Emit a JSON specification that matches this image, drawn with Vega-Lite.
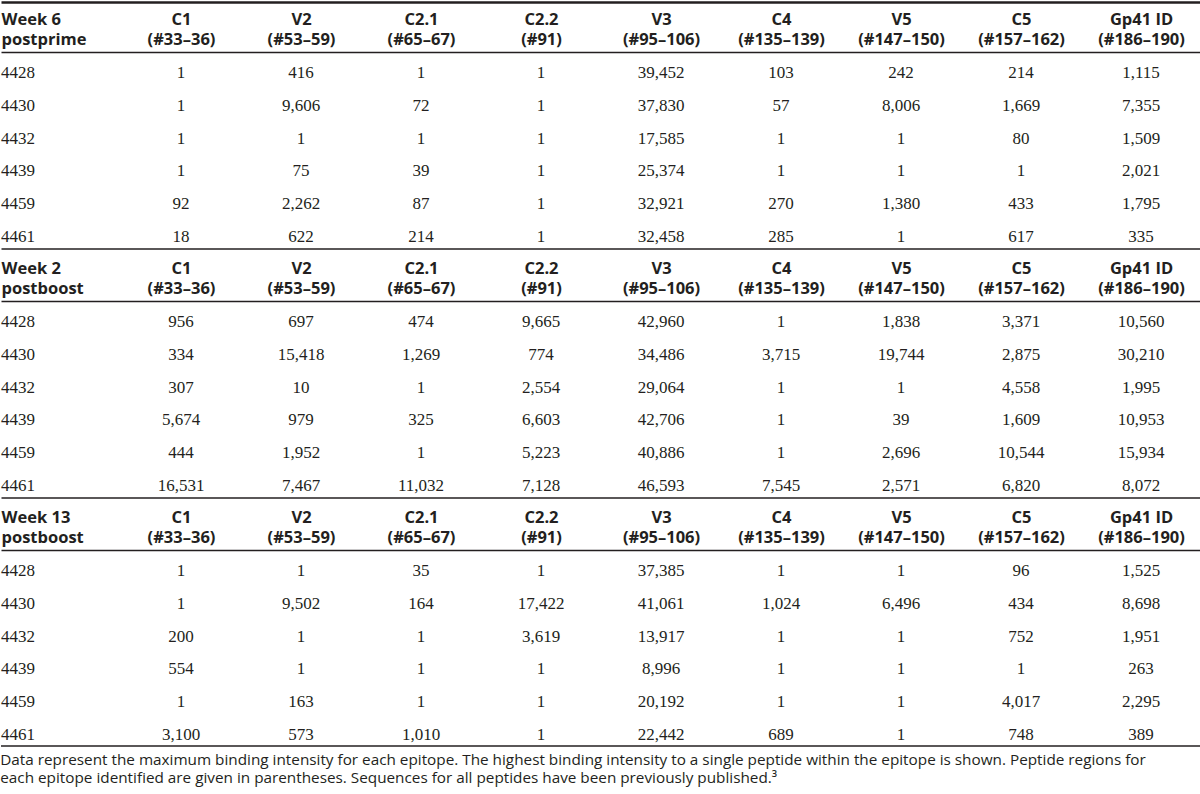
{
  "$schema": "https://vega.github.io/schema/vega-lite/v6.json",
  "padding": {"top": 2, "left": 0, "right": 0, "bottom": 0},
  "spacing": 0,
  "config": {"view": {"stroke": null}, "axis": {"grid": false}},
  "title": {
    "text": [
      "Data represent the maximum binding intensity for each epitope. The highest binding intensity to a single peptide within the epitope is shown. Peptide regions for",
      "each epitope identified are given in parentheses. Sequences for all peptides have been previously published.³"
    ],
    "orient": "bottom", "anchor": "start", "font": "Open Sans", "fontSize": 15.3, "fontWeight": "normal",
    "color": "#231f20", "lineHeight": 18, "offset": 6
  },
  "datasets": {
    "table": [
      {"block": "w6", "id": "4428", "C1": 1, "V2": 416, "C21": 1, "C22": 1, "V3": 39452, "C4": 103, "V5": 242, "C5": 214, "Gp41": 1115},
      {"block": "w6", "id": "4430", "C1": 1, "V2": 9606, "C21": 72, "C22": 1, "V3": 37830, "C4": 57, "V5": 8006, "C5": 1669, "Gp41": 7355},
      {"block": "w6", "id": "4432", "C1": 1, "V2": 1, "C21": 1, "C22": 1, "V3": 17585, "C4": 1, "V5": 1, "C5": 80, "Gp41": 1509},
      {"block": "w6", "id": "4439", "C1": 1, "V2": 75, "C21": 39, "C22": 1, "V3": 25374, "C4": 1, "V5": 1, "C5": 1, "Gp41": 2021},
      {"block": "w6", "id": "4459", "C1": 92, "V2": 2262, "C21": 87, "C22": 1, "V3": 32921, "C4": 270, "V5": 1380, "C5": 433, "Gp41": 1795},
      {"block": "w6", "id": "4461", "C1": 18, "V2": 622, "C21": 214, "C22": 1, "V3": 32458, "C4": 285, "V5": 1, "C5": 617, "Gp41": 335},
      {"block": "w2", "id": "4428", "C1": 956, "V2": 697, "C21": 474, "C22": 9665, "V3": 42960, "C4": 1, "V5": 1838, "C5": 3371, "Gp41": 10560},
      {"block": "w2", "id": "4430", "C1": 334, "V2": 15418, "C21": 1269, "C22": 774, "V3": 34486, "C4": 3715, "V5": 19744, "C5": 2875, "Gp41": 30210},
      {"block": "w2", "id": "4432", "C1": 307, "V2": 10, "C21": 1, "C22": 2554, "V3": 29064, "C4": 1, "V5": 1, "C5": 4558, "Gp41": 1995},
      {"block": "w2", "id": "4439", "C1": 5674, "V2": 979, "C21": 325, "C22": 6603, "V3": 42706, "C4": 1, "V5": 39, "C5": 1609, "Gp41": 10953},
      {"block": "w2", "id": "4459", "C1": 444, "V2": 1952, "C21": 1, "C22": 5223, "V3": 40886, "C4": 1, "V5": 2696, "C5": 10544, "Gp41": 15934},
      {"block": "w2", "id": "4461", "C1": 16531, "V2": 7467, "C21": 11032, "C22": 7128, "V3": 46593, "C4": 7545, "V5": 2571, "C5": 6820, "Gp41": 8072},
      {"block": "w13", "id": "4428", "C1": 1, "V2": 1, "C21": 35, "C22": 1, "V3": 37385, "C4": 1, "V5": 1, "C5": 96, "Gp41": 1525},
      {"block": "w13", "id": "4430", "C1": 1, "V2": 9502, "C21": 164, "C22": 17422, "V3": 41061, "C4": 1024, "V5": 6496, "C5": 434, "Gp41": 8698},
      {"block": "w13", "id": "4432", "C1": 200, "V2": 1, "C21": 1, "C22": 3619, "V3": 13917, "C4": 1, "V5": 1, "C5": 752, "Gp41": 1951},
      {"block": "w13", "id": "4439", "C1": 554, "V2": 1, "C21": 1, "C22": 1, "V3": 8996, "C4": 1, "V5": 1, "C5": 1, "Gp41": 263},
      {"block": "w13", "id": "4459", "C1": 1, "V2": 163, "C21": 1, "C22": 1, "V3": 20192, "C4": 1, "V5": 1, "C5": 4017, "Gp41": 2295},
      {"block": "w13", "id": "4461", "C1": 3100, "V2": 573, "C21": 1010, "C22": 1, "V3": 22442, "C4": 689, "V5": 1, "C5": 748, "Gp41": 389}
    ]
  },
  "vconcat": [
    {
      "width": 1200, "height": 196,
      "data": {"name": "table"},
      "transform": [{"filter": {"field": "block", "equal": "w6"}}],
      "layer": [
        {
          "transform": [{"fold": ["C1", "V2", "C21", "C22", "V3", "C4", "V5", "C5", "Gp41"], "as": ["col", "value"]}],
          "mark": {"type": "text", "font": "Liberation Serif", "fontSize": 17, "color": "#231f20", "baseline": "alphabetic", "dy": 10},
          "encoding": {
            "x": {"field": "col", "type": "nominal",
              "scale": {"domain": ["id", "C1", "V2", "C21", "C22", "V3", "C4", "V5", "C5", "Gp41"], "paddingInner": 0, "paddingOuter": 0},
              "axis": {"orient": "top", "title": null, "ticks": false, "tickSize": 0, "domain": true, "domainColor": "#231f20", "domainWidth": 1.5,
                "labelPadding": 24.5, "labelFont": "Open Sans", "labelFontSize": 16.5, "labelFontWeight": "bold", "labelColor": "#231f20",
                "labelLineHeight": 20, "labelAngle": 0, "labelOverlap": false, "labelLimit": 0, "labelBound": false,
                "labelAlign": {"condition": {"test": "datum.value === 'id'", "value": "left"}, "value": "center"},
                "labelOffset": {"condition": {"test": "datum.value === 'id'", "value": -60}, "value": 0},
                "labelExpr": "datum.value == 'id' ? ['Week 6', 'postprime'] : datum.value == 'C1' ? ['C1', '(#33–36)'] : datum.value == 'V2' ? ['V2', '(#53–59)'] : datum.value == 'C21' ? ['C2.1', '(#65–67)'] : datum.value == 'C22' ? ['C2.2', '(#91)'] : datum.value == 'V3' ? ['V3', '(#95–106)'] : datum.value == 'C4' ? ['C4', '(#135–139)'] : datum.value == 'V5' ? ['V5', '(#147–150)'] : datum.value == 'C5' ? ['C5', '(#157–162)'] : ['Gp41 ID', '(#186–190)']"}},
            "y": {"field": "id", "type": "nominal", "scale": {"domain": ["4428", "4430", "4432", "4439", "4459", "4461"], "paddingInner": 0, "paddingOuter": 0}, "axis": null},
            "text": {"field": "value", "type": "quantitative", "format": ",d"}
          }
        },
        {
          "transform": [{"fold": ["id"], "as": ["col", "value"]}],
          "mark": {"type": "text", "font": "Liberation Serif", "fontSize": 17, "color": "#231f20", "baseline": "alphabetic", "dy": 10, "dx": -60, "align": "left"},
          "encoding": {
            "x": {"field": "col", "type": "nominal",
              "axis": {"orient": "top", "offset": 50, "title": null, "labels": false, "ticks": false, "tickSize": 0, "domain": true, "domainColor": "#231f20", "domainWidth": 2.5}},
            "y": {"field": "id", "type": "nominal", "axis": null},
            "text": {"field": "value", "type": "nominal"}
          }
        }
      ],
      "resolve": {"axis": {"x": "independent"}}
    },
    {
      "width": 1200, "height": 196,
      "data": {"name": "table"},
      "transform": [{"filter": {"field": "block", "equal": "w2"}}],
      "layer": [
        {
          "transform": [{"fold": ["C1", "V2", "C21", "C22", "V3", "C4", "V5", "C5", "Gp41"], "as": ["col", "value"]}],
          "mark": {"type": "text", "font": "Liberation Serif", "fontSize": 17, "color": "#231f20", "baseline": "alphabetic", "dy": 10},
          "encoding": {
            "x": {"field": "col", "type": "nominal",
              "scale": {"domain": ["id", "C1", "V2", "C21", "C22", "V3", "C4", "V5", "C5", "Gp41"], "paddingInner": 0, "paddingOuter": 0},
              "axis": {"orient": "top", "title": null, "ticks": false, "tickSize": 0, "domain": true, "domainColor": "#231f20", "domainWidth": 1.5,
                "labelPadding": 24.5, "labelFont": "Open Sans", "labelFontSize": 16.5, "labelFontWeight": "bold", "labelColor": "#231f20",
                "labelLineHeight": 20, "labelAngle": 0, "labelOverlap": false, "labelLimit": 0, "labelBound": false,
                "labelAlign": {"condition": {"test": "datum.value === 'id'", "value": "left"}, "value": "center"},
                "labelOffset": {"condition": {"test": "datum.value === 'id'", "value": -60}, "value": 0},
                "labelExpr": "datum.value == 'id' ? ['Week 2', 'postboost'] : datum.value == 'C1' ? ['C1', '(#33–36)'] : datum.value == 'V2' ? ['V2', '(#53–59)'] : datum.value == 'C21' ? ['C2.1', '(#65–67)'] : datum.value == 'C22' ? ['C2.2', '(#91)'] : datum.value == 'V3' ? ['V3', '(#95–106)'] : datum.value == 'C4' ? ['C4', '(#135–139)'] : datum.value == 'V5' ? ['V5', '(#147–150)'] : datum.value == 'C5' ? ['C5', '(#157–162)'] : ['Gp41 ID', '(#186–190)']"}},
            "y": {"field": "id", "type": "nominal", "scale": {"domain": ["4428", "4430", "4432", "4439", "4459", "4461"], "paddingInner": 0, "paddingOuter": 0}, "axis": null},
            "text": {"field": "value", "type": "quantitative", "format": ",d"}
          }
        },
        {
          "transform": [{"fold": ["id"], "as": ["col", "value"]}],
          "mark": {"type": "text", "font": "Liberation Serif", "fontSize": 17, "color": "#231f20", "baseline": "alphabetic", "dy": 10, "dx": -60, "align": "left"},
          "encoding": {
            "x": {"field": "col", "type": "nominal",
              "axis": {"orient": "top", "offset": 52.5, "title": null, "labels": false, "ticks": false, "tickSize": 0, "domain": true, "domainColor": "#231f20", "domainWidth": 1.5}},
            "y": {"field": "id", "type": "nominal", "axis": null},
            "text": {"field": "value", "type": "nominal"}
          }
        }
      ],
      "resolve": {"axis": {"x": "independent"}}
    },
    {
      "width": 1200, "height": 196,
      "data": {"name": "table"},
      "transform": [{"filter": {"field": "block", "equal": "w13"}}],
      "layer": [
        {
          "transform": [{"fold": ["C1", "V2", "C21", "C22", "V3", "C4", "V5", "C5", "Gp41"], "as": ["col", "value"]}],
          "mark": {"type": "text", "font": "Liberation Serif", "fontSize": 17, "color": "#231f20", "baseline": "alphabetic", "dy": 10},
          "encoding": {
            "x": {"field": "col", "type": "nominal",
              "scale": {"domain": ["id", "C1", "V2", "C21", "C22", "V3", "C4", "V5", "C5", "Gp41"], "paddingInner": 0, "paddingOuter": 0},
              "axis": {"orient": "top", "title": null, "ticks": false, "tickSize": 0, "domain": true, "domainColor": "#231f20", "domainWidth": 1.5,
                "labelPadding": 24.5, "labelFont": "Open Sans", "labelFontSize": 16.5, "labelFontWeight": "bold", "labelColor": "#231f20",
                "labelLineHeight": 20, "labelAngle": 0, "labelOverlap": false, "labelLimit": 0, "labelBound": false,
                "labelAlign": {"condition": {"test": "datum.value === 'id'", "value": "left"}, "value": "center"},
                "labelOffset": {"condition": {"test": "datum.value === 'id'", "value": -60}, "value": 0},
                "labelExpr": "datum.value == 'id' ? ['Week 13', 'postboost'] : datum.value == 'C1' ? ['C1', '(#33–36)'] : datum.value == 'V2' ? ['V2', '(#53–59)'] : datum.value == 'C21' ? ['C2.1', '(#65–67)'] : datum.value == 'C22' ? ['C2.2', '(#91)'] : datum.value == 'V3' ? ['V3', '(#95–106)'] : datum.value == 'C4' ? ['C4', '(#135–139)'] : datum.value == 'V5' ? ['V5', '(#147–150)'] : datum.value == 'C5' ? ['C5', '(#157–162)'] : ['Gp41 ID', '(#186–190)']"}},
            "y": {"field": "id", "type": "nominal", "scale": {"domain": ["4428", "4430", "4432", "4439", "4459", "4461"], "paddingInner": 0, "paddingOuter": 0}, "axis": null},
            "text": {"field": "value", "type": "quantitative", "format": ",d"}
          }
        },
        {
          "transform": [{"fold": ["id"], "as": ["col", "value"]}],
          "mark": {"type": "text", "font": "Liberation Serif", "fontSize": 17, "color": "#231f20", "baseline": "alphabetic", "dy": 10, "dx": -60, "align": "left"},
          "encoding": {
            "x": {"field": "col", "type": "nominal",
              "axis": {"orient": "top", "offset": 52.5, "title": null, "labels": false, "ticks": false, "tickSize": 0, "domain": true, "domainColor": "#231f20", "domainWidth": 1.5}},
            "y": {"field": "id", "type": "nominal", "axis": null},
            "text": {"field": "value", "type": "nominal"}
          }
        },
        {
          "transform": [{"filter": {"field": "id", "equal": "4461"}}],
          "mark": {"type": "rule", "color": "#231f20", "strokeWidth": 1.5},
          "encoding": {"y": {"field": "id", "type": "nominal", "bandPosition": 1, "axis": null}}
        }
      ],
      "resolve": {"axis": {"x": "independent"}}
    }
  ]
}
